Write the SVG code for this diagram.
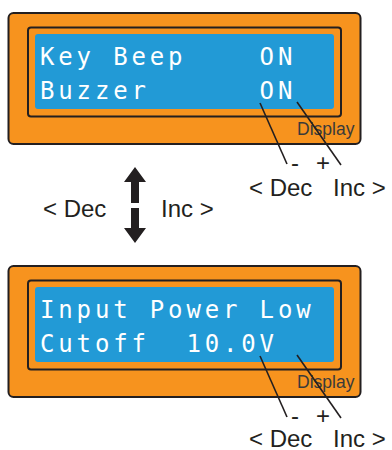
<svg xmlns="http://www.w3.org/2000/svg" width="392" height="450" viewBox="0 0 392 450">
<style>
.outer{fill:#F7931E;stroke:#231F20;stroke-width:2}
.frame{fill:#F7931E;stroke:#231F20;stroke-width:2}
.screen{fill:#229AD6}
.lcd{font-family:"DejaVu Sans Mono",monospace;font-size:24px;fill:#FFFFFF;letter-spacing:3.85px}
.disp{font-family:"Liberation Sans",Arial,sans-serif;font-size:17.5px;fill:#3A3A3A}
.lbl{font-family:"Liberation Sans",Arial,sans-serif;font-size:24px;fill:#231F20}
.conn{stroke:#231F20;stroke-width:1.6;fill:none}
.arrow{fill:#231F20}
</style>
<rect width="392" height="450" fill="#FFFFFF"/>
<g id="display1">
<rect class="outer" x="8.5" y="13" width="352" height="131" rx="5"/>
<rect class="frame" x="28" y="27.5" width="313" height="89" rx="3"/>
<rect class="screen" x="35" y="34" width="299" height="75" rx="3"/>
<text class="lcd" x="40" y="65" xml:space="preserve">Key Beep    ON</text>
<text class="lcd" x="40" y="99" xml:space="preserve">Buzzer      ON</text>
<text class="disp" x="297" y="135">Display</text>
</g>
<g id="display2">
<rect class="outer" x="8.5" y="266" width="352" height="131" rx="5"/>
<rect class="frame" x="28" y="280.5" width="313" height="89" rx="3"/>
<rect class="screen" x="35" y="287" width="299" height="75" rx="3"/>
<text class="lcd" x="40" y="318" xml:space="preserve">Input Power Low</text>
<text class="lcd" x="40" y="352" xml:space="preserve">Cutoff  10.0V</text>
<text class="disp" x="297" y="388">Display</text>
</g>
<g id="nav">
<path class="arrow" d="M135 167 L146 182 L139 182 L139 203 L131 203 L131 182 L124 182 Z"/>
<path class="arrow" d="M135 243 L146 228 L139 228 L139 208 L131 208 L131 228 L124 228 Z"/>
<text class="lbl" x="43" y="217">&lt; Dec</text>
<text class="lbl" x="161" y="217">Inc &gt;</text>
</g>
<g id="connectors">
<line class="conn" x1="260" y1="103" x2="287" y2="164"/>
<line class="conn" x1="297" y1="102" x2="341" y2="165"/>
<line class="conn" x1="260" y1="356" x2="287" y2="417"/>
<line class="conn" x1="297" y1="355" x2="341" y2="418"/>
</g>
<g id="labels1">
<text class="lbl" x="291" y="171">-</text>
<text class="lbl" x="316" y="171">+</text>
<text class="lbl" x="249" y="196">&lt; Dec</text>
<text class="lbl" x="333" y="196">Inc &gt;</text>
</g>
<g id="labels2">
<text class="lbl" x="291" y="424">-</text>
<text class="lbl" x="316" y="424">+</text>
<text class="lbl" x="249" y="447">&lt; Dec</text>
<text class="lbl" x="333" y="447">Inc &gt;</text>
</g>
</svg>
